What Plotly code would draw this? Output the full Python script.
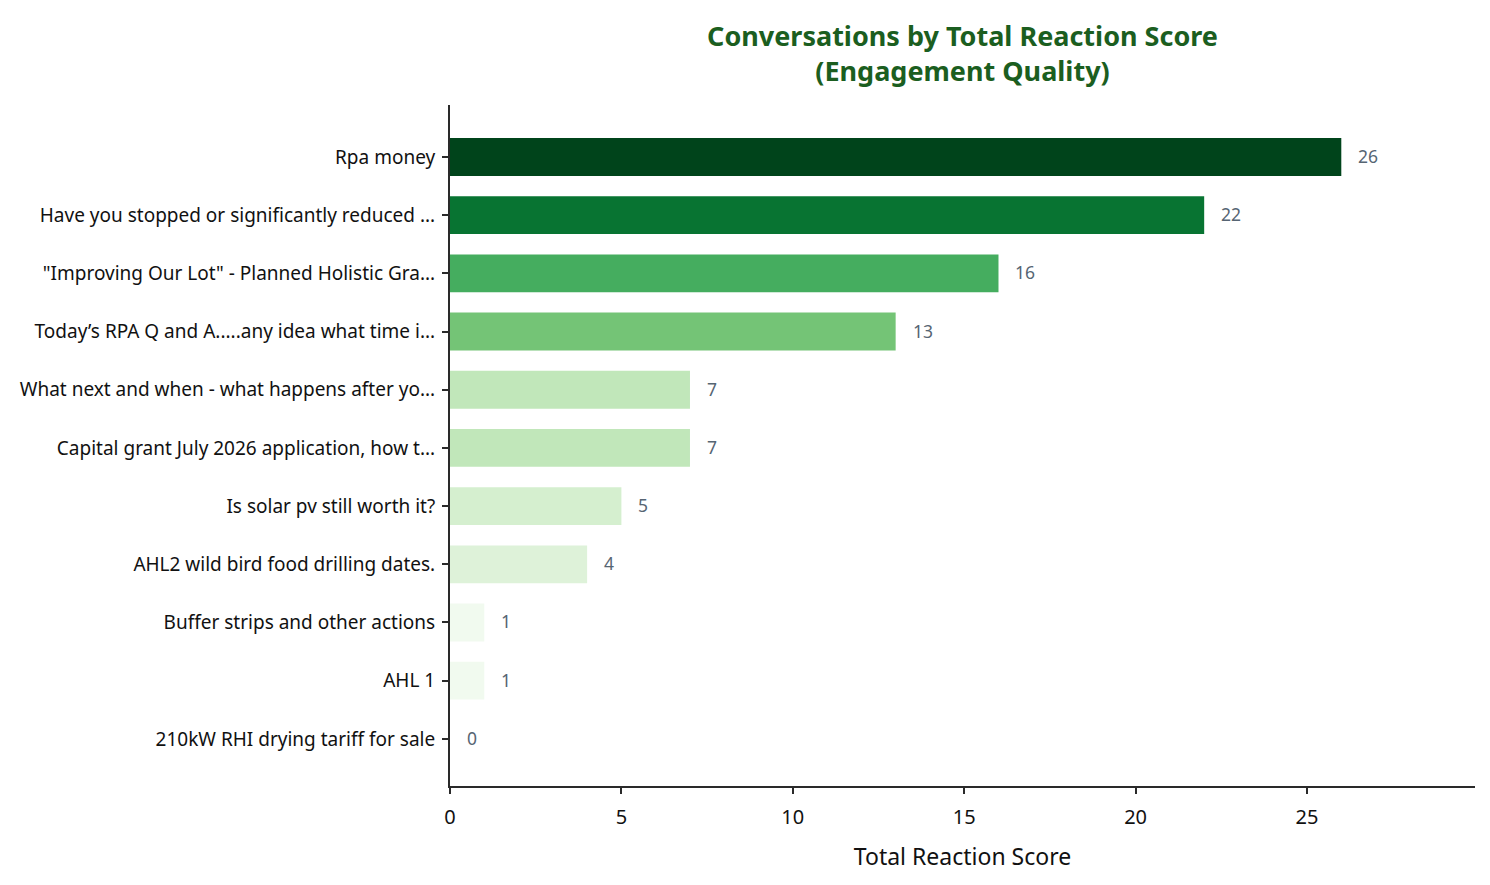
import plotly.graph_objects as go
import plotly.express as px

categories = [
    "Rpa money",
    "Have you stopped or significantly reduced ...",
    "\"Improving Our Lot\" - Planned Holistic Gra...",
    "Today\u2019s RPA Q and A.....any idea what time i...",
    "What next and when - what happens after yo...",
    "Capital grant July 2026 application, how t...",
    "Is solar pv still worth it?",
    "AHL2 wild bird food drilling dates.",
    "Buffer strips and other actions",
    "AHL 1",
    "210kW RHI drying tariff for sale",
]
scores = [26, 22, 16, 13, 7, 7, 5, 4, 1, 1, 0]
x_ticks = [0, 5, 10, 15, 20, 25]

fig = go.Figure()
fig.add_trace(go.Bar(
    x=scores,
    y=categories,
    orientation="h",
    width=0.65,
    marker=dict(
        color=scores,
        colorscale=px.colors.sequential.Greens,
        cmin=0,
        cmax=max(scores),
        line=dict(width=0),
    ),
    showlegend=False,
    hoverinfo="x+y",
))

for c, v in zip(categories, scores):
    fig.add_annotation(
        x=v, y=c, text=str(v), showarrow=False,
        xanchor="left", xshift=15, yshift=1,
        font=dict(family="Noto Sans", size=17.5, color="#566573"),
    )

fig.update_layout(
    width=1482, height=877,
    margin=dict(l=442, r=15, t=97, b=99),
    paper_bgcolor="white",
    plot_bgcolor="white",
    font=dict(family="Noto Sans", size=19, color="#111111"),
    title=dict(
        text="<b>Conversations by Total Reaction Score<br>(Engagement Quality)</b>",
        x=0.5, xref="paper", xanchor="center",
        y=0.957, yref="container", yanchor="top",
        font=dict(family="Noto Sans", size=27, color="#1b5e20"),
    ),
)

fig.update_xaxes(
    range=[0, 29.9],
    tickvals=x_ticks,
    ticks="outside", ticklen=6, tickwidth=1.5, tickcolor="#2a2a2a",
    showline=True, linecolor="#2a2a2a", linewidth=2,
    showgrid=False, zeroline=False,
    tickfont=dict(family="Noto Sans", size=20, color="#111111"),
    ticklabelstandoff=6,
    title=dict(text="Total Reaction Score", standoff=20,
               font=dict(family="Noto Sans", size=23, color="#111111")),
)
fig.update_yaxes(
    categoryorder="array", categoryarray=categories,
    range=[10.81, -0.893],
    ticks="outside", ticklen=6, tickwidth=1.5, tickcolor="#2a2a2a",
    showline=True, linecolor="#2a2a2a", linewidth=2,
    showgrid=False, zeroline=False,
    tickfont=dict(family="Noto Sans", size=19, color="#111111"),
    ticklabelstandoff=3,
)

fig.write_html("out.html")
